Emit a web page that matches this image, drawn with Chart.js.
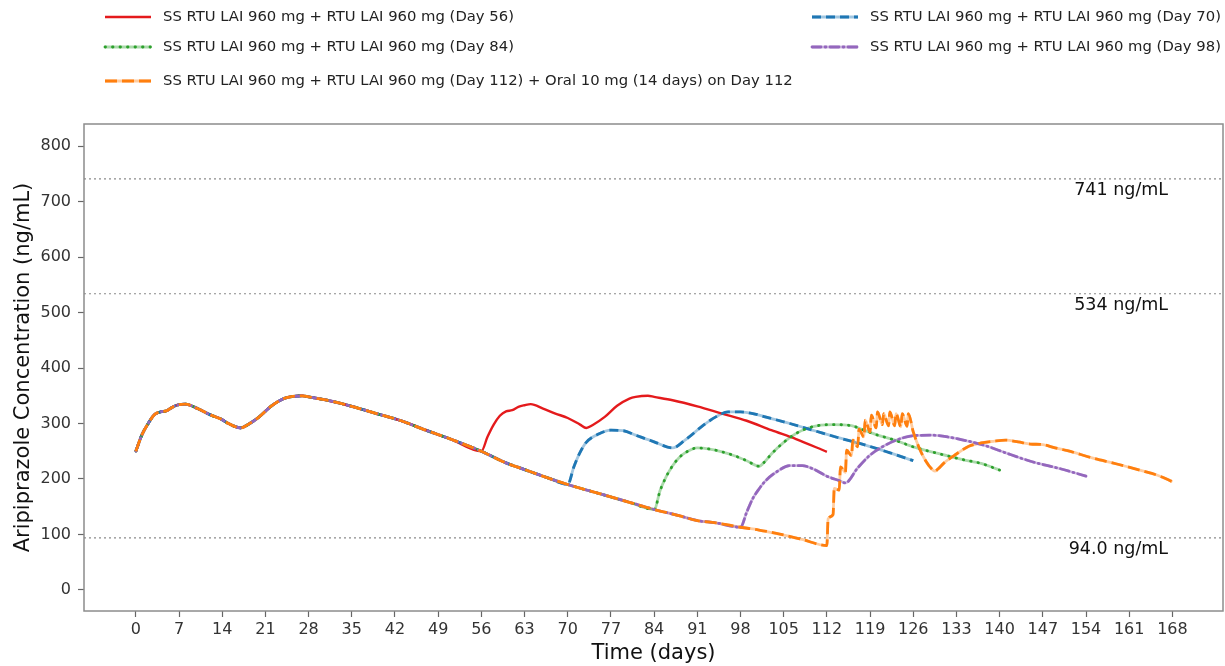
<!DOCTYPE html>
<html>
<head>
<meta charset="utf-8">
<title>Aripiprazole concentration</title>
<script src="https://cdn.jsdelivr.net/npm/chart.js@4.4.1/dist/chart.umd.min.js"></script>
<style>
  html, body { margin: 0; padding: 0; background: #fff; }
  #mycanvas { display: block; }
</style>
</head>
<body>
<canvas id="mycanvas" width="1225" height="666"></canvas>
<script>
// shared steady-state profile, day 0 to day 112 (no further dose)
var baseDays = [0, 1, 2, 3, 4, 5, 6, 7, 8, 10, 12, 14, 15, 17, 18, 20, 22, 24, 25, 27, 28, 31, 35, 39, 43, 47, 51, 56,
                60, 63, 67, 70, 75, 80, 84, 88, 91, 94, 98, 101, 105, 108, 112];
var baseConc = [250, 280, 300, 316, 321, 323, 330, 334, 335, 327, 316, 307, 300, 292, 297, 312, 332, 345, 348, 350, 348, 342, 331, 318, 305, 288, 272, 250,
                229, 217, 201, 190, 174, 158, 145, 134, 125, 121, 113, 108, 99, 91, 80];

// profiles after the second injection
var day56Days = [57, 58, 59, 60, 61, 62, 63, 64, 66, 68, 70, 72, 73, 74, 76, 78, 80, 81, 83, 84, 87, 91, 95, 99, 103, 107, 112];
var day56Conc = [276, 298, 314, 322, 324, 330, 333, 335, 327, 318, 310, 298, 292, 297, 312, 332, 345, 348, 350, 348, 342, 331, 318, 305, 288, 272, 249];

var day70Days = [71, 72, 73, 75, 77, 79, 81, 84, 87, 89, 92, 94, 96, 98, 100, 102, 106, 110, 114, 118, 122, 126];
var day70Conc = [222, 248, 266, 281, 288, 287, 279, 267, 256, 270, 297, 312, 321, 321, 318, 312, 300, 287, 274, 262, 248, 233];

var day84Days = [85, 86, 87, 88, 89, 91, 93, 95, 97, 99, 101, 102, 103, 105, 107, 109, 111, 113, 116, 118, 120, 123, 126, 130, 134, 137, 140];
var day84Conc = [180, 205, 224, 238, 247, 256, 254, 249, 242, 233, 223, 232, 245, 266, 282, 292, 297, 298, 296, 288, 280, 270, 258, 246, 235, 228, 216];

var day98Days = [99, 100, 101, 102, 104, 106, 108, 110, 112, 114, 115, 117, 119, 121, 123, 126, 129, 132, 135, 138, 141, 145, 150, 154];
var day98Conc = [140, 165, 182, 196, 214, 224, 224, 217, 205, 197, 193, 220, 243, 258, 269, 278, 279, 275, 268, 259, 247, 232, 218, 205];

// day 112 injection plus 14 daily oral doses
var day112Days = [112.2, 113, 113.2, 114, 114.2, 115, 115.2, 116, 116.2, 117, 117.2, 118, 118.2, 119, 119.2, 120, 120.2,
                  121, 121.2, 122, 122.2, 123, 123.2, 124, 124.2, 125, 125.2, 126, 127, 128, 129, 129.5, 130, 131, 133,
                  135, 137, 139, 141, 143, 145, 147, 149, 151, 155, 159, 163, 166, 168];
var day112Conc = [128, 136, 183, 180, 222, 212, 252, 242, 270, 258, 290, 276, 306, 285, 315, 292, 321,
                  298, 318, 296, 321, 296, 318, 294, 318, 295, 318, 285, 255, 233, 218, 214, 218, 229, 245,
                  259, 265, 268, 270, 267, 263, 262, 256, 251, 238, 227, 215, 205, 195];

var seriesLabels = [
  'SS RTU LAI 960 mg + RTU LAI 960 mg (Day 56)',
  'SS RTU LAI 960 mg + RTU LAI 960 mg (Day 70)',
  'SS RTU LAI 960 mg + RTU LAI 960 mg (Day 84)',
  'SS RTU LAI 960 mg + RTU LAI 960 mg (Day 98)',
  'SS RTU LAI 960 mg + RTU LAI 960 mg (Day 112) + Oral 10 mg (14 days) on Day 112'
];
var doseDays = [56, 70, 84, 98, 112];
var postDays = [day56Days, day70Days, day84Days, day98Days, day112Days];
var postConc = [day56Conc, day70Conc, day84Conc, day98Conc, day112Conc];

var refValues = [741, 534, 94];
var refLabels = ['741 ng/mL', '534 ng/mL', '94.0 ng/mL'];

var xTicks = [0, 7, 14, 21, 28, 35, 42, 49, 56, 63, 70, 77, 84, 91, 98, 105, 112, 119, 126, 133, 140, 147, 154, 161, 168];
var yTicks = [0, 100, 200, 300, 400, 500, 600, 700, 800];

var styles = [
  { color: '#e41a1c', under: null,                     dash: [],           cap: 'butt'  },
  { color: '#1f77b4', under: 'rgba(31,119,180,0.42)',  dash: [9, 5],       cap: 'butt'  },
  { color: '#2ca02c', under: 'rgba(44,160,44,0.40)',   dash: [0.5, 7],     cap: 'round' },
  { color: '#9467bd', under: 'rgba(148,103,189,0.42)', dash: [9, 4, 1, 4], cap: 'round' },
  { color: '#ff7f0e', under: 'rgba(255,127,14,0.40)',  dash: [12, 5],      cap: 'butt'  }
];
// legend slot for each series: [sample x, row y]
var legendSlots = [[105, 17], [812, 17], [105, 47], [812, 47], [105, 81]];

var X_MIN = -8.4, X_MAX = 176.2;

function seriesPoints(i) {
  var pts = [];
  for (var k = 0; k < baseDays.length; k++) {
    if (baseDays[k] <= doseDays[i]) pts.push({ x: baseDays[k], y: baseConc[k] });
  }
  for (var j = 0; j < postDays[i].length; j++) {
    pts.push({ x: postDays[i][j], y: postConc[i][j] });
  }
  return pts;
}

var datasets = [];
seriesLabels.forEach(function (label, i) {
  var st = styles[i];
  var pts = seriesPoints(i);
  datasets.push({
    label: label,
    data: pts,
    borderColor: st.color,
    borderWidth: i === 0 ? 2.4 : 2.8,
    borderDash: st.dash,
    borderCapStyle: st.cap,
    pointRadius: 0,
    cubicInterpolationMode: 'monotone',
    order: 4 - i
  });
  if (st.under) {
    datasets.push({
      label: '_under' + i,
      data: pts,
      borderColor: st.under,
      borderWidth: 2.8,
      pointRadius: 0,
      cubicInterpolationMode: 'monotone',
      order: 10
    });
  }
});
refValues.forEach(function (v) {
  datasets.push({
    label: '_ref' + v,
    data: [{ x: X_MIN, y: v }, { x: X_MAX, y: v }],
    borderColor: '#8a8a8a',
    borderWidth: 1.2,
    borderDash: [2, 3],
    pointRadius: 0,
    order: 20
  });
});

var extras = {
  id: 'extras',
  afterDraw: function (chart) {
    var ctx = chart.ctx, a = chart.chartArea;
    var xs = chart.scales.x, ys = chart.scales.y;
    ctx.save();

    // box round the plot area
    ctx.strokeStyle = '#8c8c8c';
    ctx.lineWidth = 1.5;
    ctx.strokeRect(a.left, a.top, a.right - a.left, a.bottom - a.top);

    // threshold labels
    ctx.font = '17.5px "DejaVu Sans"';
    ctx.fillStyle = '#111';
    ctx.textAlign = 'right';
    ctx.textBaseline = 'middle';
    refValues.forEach(function (v, i) {
      ctx.fillText(refLabels[i], xs.getPixelForValue(167.3), ys.getPixelForValue(v) + 12);
    });

    // legend
    ctx.textAlign = 'left';
    ctx.font = '14.8px "DejaVu Sans"';
    ctx.fillStyle = '#222';
    seriesLabels.forEach(function (label, i) {
      var st = styles[i], sx = legendSlots[i][0], sy = legendSlots[i][1];
      if (st.under) {
        ctx.setLineDash([]);
        ctx.lineCap = 'butt';
        ctx.strokeStyle = st.under;
        ctx.lineWidth = 2.8;
        ctx.beginPath(); ctx.moveTo(sx, sy); ctx.lineTo(sx + 46, sy); ctx.stroke();
      }
      ctx.setLineDash(st.dash);
      ctx.lineCap = st.cap;
      ctx.strokeStyle = st.color;
      ctx.lineWidth = i === 0 ? 2.4 : 2.8;
      ctx.beginPath(); ctx.moveTo(sx, sy); ctx.lineTo(sx + 46, sy); ctx.stroke();
      ctx.setLineDash([]);
      ctx.fillText(label, sx + 58, sy);
    });
    ctx.restore();
  }
};

var tickFont = { family: 'DejaVu Sans', size: 16 };
var titleFont = { family: 'DejaVu Sans', size: 21 };

new Chart(document.getElementById('mycanvas'), {
  type: 'line',
  data: { datasets: datasets },
  options: {
    responsive: false,
    animation: false,
    devicePixelRatio: 1,
    layout: { padding: { top: 124, right: 2, left: 0, bottom: 0 } },
    plugins: { legend: { display: false }, tooltip: { enabled: false } },
    scales: {
      x: {
        type: 'linear',
        min: X_MIN,
        max: X_MAX,
        afterBuildTicks: function (s) { s.ticks = xTicks.map(function (v) { return { value: v }; }); },
        afterFit: function (s) { s.height = 55; },
        ticks: { autoSkip: false, maxRotation: 0, font: tickFont, color: '#333', padding: 3 },
        grid: { drawOnChartArea: false, tickLength: 6, tickColor: '#666', tickWidth: 1.2 },
        border: { display: false },
        title: { display: true, text: 'Time (days)', font: titleFont, color: '#111', padding: { top: 0, bottom: 0 } }
      },
      y: {
        type: 'linear',
        min: -38,
        max: 840,
        afterBuildTicks: function (s) { s.ticks = yTicks.map(function (v) { return { value: v }; }); },
        afterFit: function (s) { s.width = 84; },
        ticks: { font: tickFont, color: '#333', padding: 7 },
        grid: { drawOnChartArea: false, tickLength: 6, tickColor: '#666', tickWidth: 1.2 },
        border: { display: false },
        title: { display: true, text: 'Aripiprazole Concentration (ng/mL)', font: titleFont, color: '#111', padding: { top: 11, bottom: 0 } }
      }
    }
  },
  plugins: [extras]
});
</script>
</body>
</html>
